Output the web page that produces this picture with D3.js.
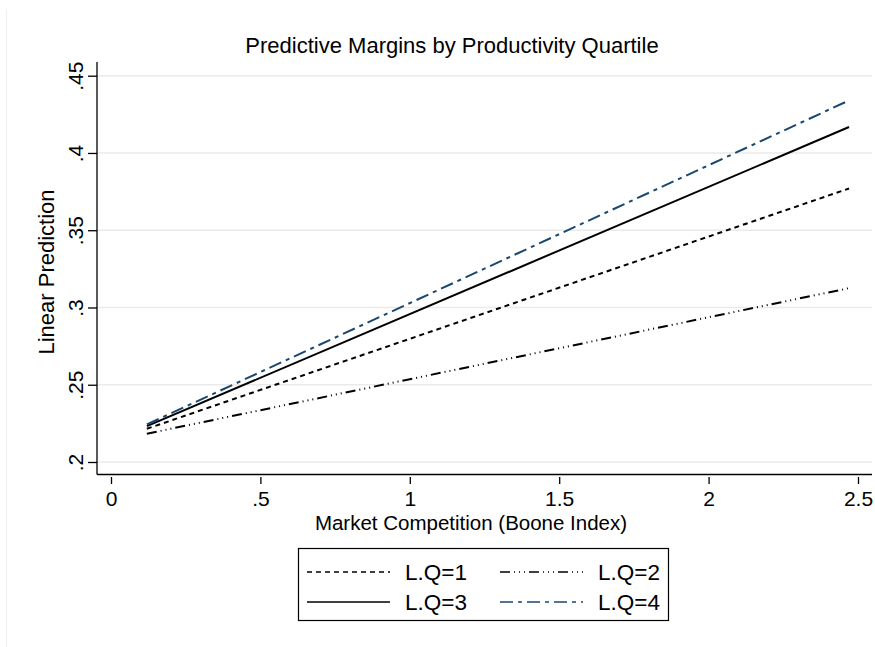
<!DOCTYPE html>
<html><head><meta charset="utf-8">
<script src="https://cdn.jsdelivr.net/npm/d3@7"></script>
<style>body{margin:0;background:#fff}svg{display:block;font-family:"Liberation Sans",Arial,sans-serif}</style>
</head><body>
<script>
const xValues = [0.12, 2.47];
const seriesNames = ["L.Q=1", "L.Q=2", "L.Q=3", "L.Q=4"];
const q1 = [0.2215, 0.3770];
const q2 = [0.2183, 0.3125];
const q3 = [0.2232, 0.4168];
const q4 = [0.2243, 0.4340];
const xTicks = [0, 0.5, 1, 1.5, 2, 2.5];
const xTickLabels = ["0", ".5", "1", "1.5", "2", "2.5"];
const yTicks = [0.2, 0.25, 0.3, 0.35, 0.4, 0.45];
const yTickLabels = [".2", ".25", ".3", ".35", ".4", ".45"];

(function(){
const W = 875, H = 647;
const FONT = "Liberation Sans, Arial, sans-serif";
const svg = d3.select("body").append("svg").attr("width", W).attr("height", H);

svg.append("line").attr("x1", 6.5).attr("x2", 6.5).attr("y1", 9).attr("y2", H).attr("stroke", "#eeeeee").attr("stroke-width", 1);

const pL = 97, pR = 872, pT = 62, pB = 474.5;
const x = d3.scaleLinear().domain([0, 2.5]).range([111, 858]);
const y = d3.scaleLinear().domain([0.2, 0.45]).range([462, 75.7]);

// gridlines
svg.append("g").selectAll("line").data(yTicks).join("line")
  .attr("x1", pL).attr("x2", pR).attr("y1", d => y(d)).attr("y2", d => y(d))
  .attr("stroke", "#eaeaea").attr("stroke-width", 1.6);

// y axis
const yAxis = d3.axisLeft(y).tickValues(yTicks).tickFormat((d, i) => yTickLabels[i]).tickSize(9).tickSizeOuter(0);
const gy = svg.append("g").attr("transform", `translate(${pL},0)`).call(yAxis);
gy.select(".domain").attr("d", `M0,${pT}V${pB}`).attr("stroke", "#000").attr("stroke-width", 1.3);
gy.selectAll(".tick line").attr("stroke", "#000").attr("stroke-width", 1.3);
gy.selectAll(".tick text").attr("font-size", 21).attr("font-family", FONT)
  .attr("fill", "#000").attr("x", null).attr("dy", null).attr("y", null)
  .attr("text-anchor", "middle")
  .attr("transform", "translate(-14,0) rotate(-90)");

// x axis
const xAxis = d3.axisBottom(x).tickValues(xTicks).tickFormat((d, i) => xTickLabels[i]).tickSize(7).tickSizeOuter(0);
const gx = svg.append("g").attr("transform", `translate(0,${pB + 2.5})`).call(xAxis);
gx.select(".domain").remove();
svg.append("line").attr("x1", pL).attr("x2", pR).attr("y1", pB).attr("y2", pB).attr("stroke", "#000").attr("stroke-width", 1.3);
gx.selectAll(".tick line").attr("stroke", "#000").attr("stroke-width", 1.3);
gx.selectAll(".tick text").attr("font-size", 21).attr("font-family", FONT).attr("fill", "#000").attr("y", 14).attr("dy", "0.71em");

// lines
const styles = [
  {data: q1, color: "#000", dash: "5,4"},
  {data: q2, color: "#000", dash: "10,4,1,4,1,4,1,4"},
  {data: q3, color: "#000", dash: null},
  {data: q4, color: "#1a476f", dash: "13,5,4,5"}
];
const line = d3.line().x(d => x(d[0])).y(d => y(d[1]));
styles.forEach(s => {
  svg.append("path").datum(xValues.map((xv, i) => [xv, s.data[i]]))
    .attr("d", line).attr("fill", "none").attr("stroke", s.color).attr("stroke-width", 2)
    .attr("stroke-dasharray", s.dash);
});

// title & labels
svg.append("text").attr("x", 452).attr("y", 53).attr("text-anchor", "middle").attr("font-size", 22).text("Predictive Margins by Productivity Quartile");
svg.append("text").attr("transform", `translate(54,272) rotate(-90)`).attr("text-anchor", "middle").attr("font-size", 22).text("Linear Prediction");
svg.append("text").attr("x", 471).attr("y", 530).attr("text-anchor", "middle").attr("font-size", 20.5).text("Market Competition (Boone Index)");

// legend
svg.append("rect").attr("x", 298.5).attr("y", 548.5).attr("width", 370).attr("height", 72).attr("fill", "#fff").attr("stroke", "#000").attr("stroke-width", 1.2);
const legPos = [[307, 572], [500, 572], [307, 602], [500, 602]];
styles.forEach((s, i) => {
  const [lx, ly] = legPos[i];
  svg.append("line").attr("x1", lx).attr("x2", lx + 83).attr("y1", ly).attr("y2", ly)
    .attr("stroke", s.color).attr("stroke-width", 1.6).attr("stroke-dasharray", s.dash);
  svg.append("text").attr("x", lx + 98).attr("y", ly + 8).attr("font-size", 22.5).text(seriesNames[i]);
});
})();
</script>
</body></html>
